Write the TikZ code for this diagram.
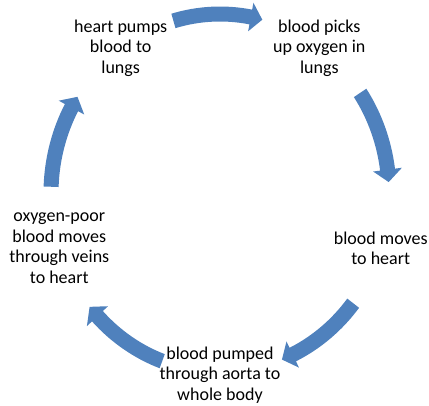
\documentclass[tikz,border=0pt]{standalone}
\usepackage{fontspec}
\setmainfont{Carlito}
\usetikzlibrary{calc}
\definecolor{cycleblue}{HTML}{4F81BD}
\tikzset{
  steptext/.style={align=center, font=\fontsize{18}{20.5}\selectfont, text=black, inner sep=0pt},
  arrowfill/.style={fill=cycleblue, draw=none}
}
\begin{document}
\begin{tikzpicture}[x=1pt,y=1pt]
\useasboundingbox (0,0) rectangle (429,405);
\coordinate (ctr) at (220,212);
% nodes on the ellipse (rx=169, ry=179)
\node[steptext] (n1) at ($(ctr)+(126:169 and 179)$) {heart pumps\\blood to\\lungs};
\node[steptext] (n2) at ($(ctr)+(54:169 and 179)$) {blood picks\\up oxygen in\\lungs};
\node[steptext] (n3) at ($(ctr)+(-18:169 and 179)$) {blood moves\\to heart};
\node[steptext] (n4) at ($(ctr)+(-90:169 and 182)$) {blood pumped\\through aorta to\\whole body};
\node[steptext] (n5) at ($(ctr)+(198:169 and 179)$) {oxygen-poor\\blood moves\\through veins\\to heart};
% curved block arrows
\begin{scope}[shift={(ctr)}]
\foreach \c in {90,18,-54,-126,162}{
  \pgfmathsetmacro\s{\c+16}
  \pgfmathsetmacro\t{\c-14.5}
  \pgfmathsetmacro\b{\c-10.5}
  \fill[arrowfill] (\s:176.5 and 186.5)
     arc[start angle=\s, end angle=\b, x radius=176.5, y radius=186.5]
     -- (\b:183.5 and 193.5) -- (\t:169 and 179) -- (\b:154.5 and 164.5)
     -- (\b:161.5 and 171.5)
     arc[start angle=\b, end angle=\s, x radius=161.5, y radius=171.5] -- cycle;
}
\end{scope}
\end{tikzpicture}
\end{document}
